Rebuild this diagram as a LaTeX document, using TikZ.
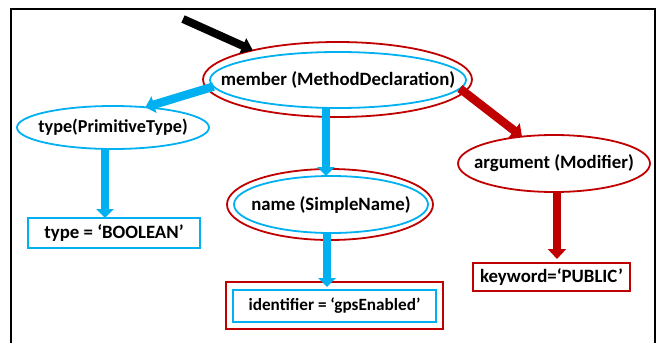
\documentclass[tikz,border=0pt]{standalone}
\usepackage{fontspec}
\setmainfont{Carlito}
\usetikzlibrary{arrows.meta,shapes.geometric}
\definecolor{astblue}{RGB}{0,176,240}
\definecolor{astred}{RGB}{192,0,0}
\begin{document}
\begin{tikzpicture}[x=1pt,y=-1pt,
  every node/.style={inner sep=0pt,outer sep=0pt},
  lbl/.style={font=\fontsize{18.8}{22}\selectfont\bfseries},
  smalllbl/.style={font=\fontsize{17.2}{20}\selectfont\bfseries},
  blueell/.style={ellipse,draw=astblue,line width=1.8pt},
  redell/.style={ellipse,draw=astred,line width=1.8pt},
  bluebox/.style={rectangle,draw=astblue,line width=2.2pt},
  redbox/.style={rectangle,draw=astred,line width=2.2pt},
  bluearrow/.style={astblue,line width=8.5pt,-{Triangle[width=17pt,length=9pt]}},
  redarrow/.style={astred,line width=8.5pt,-{Triangle[width=18pt,length=10pt]}},
  blackarrow/.style={black,line width=8pt,-{Triangle[width=16pt,length=11pt]}}]
\useasboundingbox (0,0) rectangle (657,343);
\draw [line width=2pt] (11,345) -- (11,9) -- (655,9) -- (655,345);
\node [redell,minimum width=269pt,minimum height=75pt] (member) at (337.5,79.5) {};
\node [blueell,minimum width=256pt,minimum height=56pt,label={[lbl]center:member (MethodDeclaration)}] (memberin) at (338,80) {};
\node [blueell,minimum width=192pt,minimum height=43pt,label={[lbl,font=\fontsize{18.2}{22}\selectfont\bfseries]center:type(PrimitiveType)}] (type) at (113,127.5) {};
\node [redell,minimum width=206pt,minimum height=71pt] (name) at (330,204.5) {};
\node [blueell,minimum width=194pt,minimum height=57pt,label={[lbl]center:name (SimpleName)}] (namein) at (331,204.5) {};
\node [redell,minimum width=192pt,minimum height=57pt,label={[lbl]center:argument (Modifier)}] (argument) at (554,163.5) {};
\node [bluebox,minimum width=172pt,minimum height=30pt,label={[lbl]center:type = ‘BOOLEAN’}] (boolean) at (114,233) {};
\node [redbox,minimum width=217pt,minimum height=47pt] (ident) at (334.5,305.5) {};
\node [bluebox,minimum width=203pt,minimum height=32pt,label={[smalllbl]center:identifier = ‘gpsEnabled’}] (identin) at (334.5,306) {};
\node [redbox,minimum width=157pt,minimum height=28pt,label={[lbl]center:keyword=‘PUBLIC’}] (keyword) at (551.5,277) {};
\coordinate (start) at (183,19);
\draw [blackarrow] (start) -- (member.161);
\draw [bluearrow] (memberin.183) -- (type.32);
\draw [bluearrow] ([xshift=-12pt]memberin.south) -- ([xshift=-5pt]namein.north);
\draw [redarrow] (memberin.-4) -- (argument.140);
\draw [bluearrow] ([xshift=-8pt]type.south) -- ([xshift=-9pt]boolean.north);
\draw [bluearrow] ([xshift=-4pt]namein.south) -- ([xshift=-7.5pt,yshift=3pt]identin.north);
\draw [redarrow] ([xshift=3pt]argument.south) -- ([xshift=5.5pt,yshift=4pt]keyword.north);
\end{tikzpicture}
\end{document}
